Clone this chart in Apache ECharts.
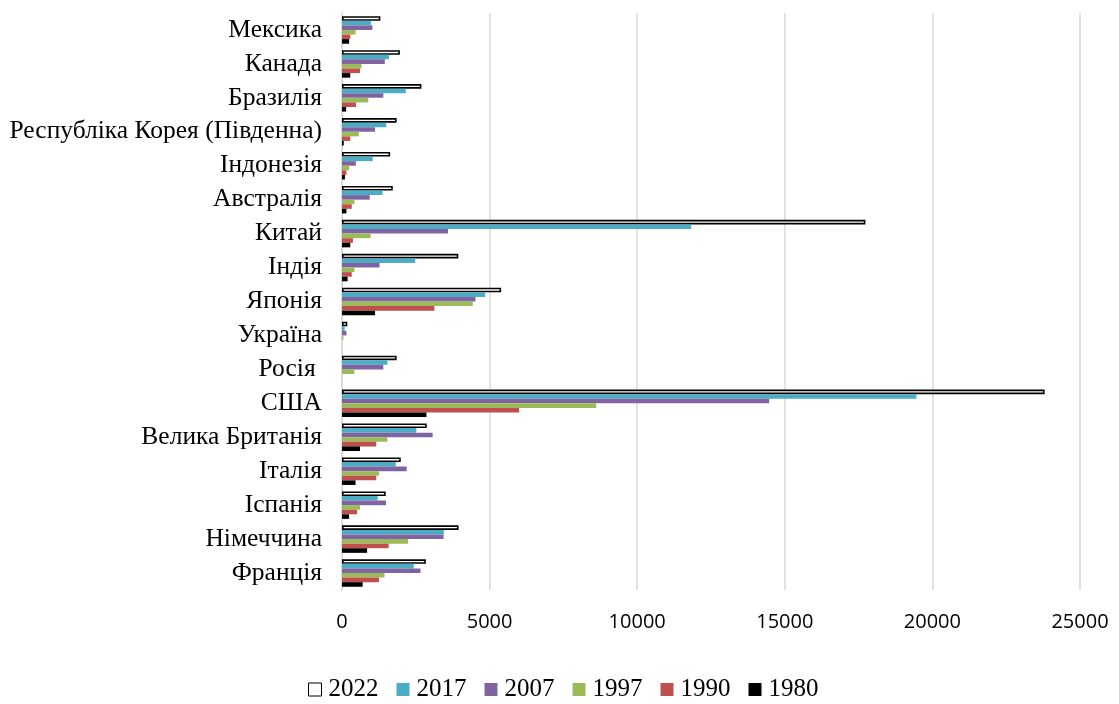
<!DOCTYPE html>
<html>
<head>
<meta charset="utf-8">
<script src="https://cdn.jsdelivr.net/npm/echarts@6/dist/echarts.min.js"></script>
<style>html,body{margin:0;padding:0;background:#fff;}#c{width:1119px;height:704px;}</style>
</head>
<body>
<div id="c"></div>
<script>
const categories = ['Франція','Німеччина','Іспанія','Італія','Велика Британія','США','Росія ','Україна','Японія','Індія','Китай','Австралія','Індонезія','Республіка Корея (Південна)','Бразилія','Канада','Мексика'];
const xTicks = [0, 5000, 10000, 15000, 20000, 25000];
const seriesNames = ['2022','2017','2007','1997','1990','1980'];
const v2022 = [2840, 3950, 1480, 1990, 2870, 23800, 1850, 180, 5390, 3940, 17730, 1720, 1630, 1850, 2690, 1960, 1300];
const v2017 = [2430, 3450, 1210, 1820, 2520, 19460, 1540, 90, 4850, 2480, 11830, 1370, 1040, 1500, 2160, 1590, 980];
const v2007 = [2660, 3440, 1490, 2190, 3070, 14470, 1400, 150, 4520, 1270, 3590, 940, 470, 1120, 1400, 1450, 1030];
const v1997 = [1440, 2240, 610, 1250, 1540, 8610, 420, 45, 4430, 420, 970, 420, 240, 570, 890, 660, 460];
const v1990 = [1250, 1580, 510, 1160, 1160, 6000, null, null, 3130, 330, 370, 330, 150, 280, 475, 610, 280];
const v1980 = [700, 850, 240, 460, 610, 2860, null, null, 1120, 190, 280, 150, 100, 60, 140, 280, 240];
const values = [v2022, v2017, v2007, v1997, v1990, v1980];
const colors = ['#ffffff', '#4bacc6', '#8064a2', '#9bbb59', '#c0504d', '#000000'];

const chart = echarts.init(document.getElementById('c'), null, {renderer: 'canvas'});
const series = seriesNames.map((n, i) => ({
  name: n,
  type: 'bar',
  data: values[i],
  barGap: '0%',
  barCategoryGap: '19%',
  itemStyle: i === 0 ? {color: '#ffffff', borderColor: '#000000', borderWidth: 1.6} : {color: colors[i]},
  emphasis: {disabled: true}
}));
chart.setOption({
  animation: false,
  backgroundColor: '#ffffff',
  grid: {left: 342, right: 39, top: 13, bottom: 114, containLabel: false},
  legend: {
    data: seriesNames.map((n, i) => ({name: n, itemStyle: i === 0 ? {color: '#fff', borderColor: '#000', borderWidth: 1} : {color: colors[i]}})),
    bottom: -3,
    left: 303,
    icon: 'rect',
    itemWidth: 13,
    itemHeight: 13,
    itemGap: 18,
    textStyle: {fontFamily: 'Liberation Serif', fontSize: 25, color: '#000', padding: [0, 0, 0, 2]}
  },
  xAxis: {
    type: 'value',
    min: 0,
    max: 25000,
    interval: 5000,
    axisLine: {show: false},
    axisTick: {show: false},
    splitLine: {show: true, lineStyle: {color: '#d9d9d9', width: 1.5}},
    axisLabel: {margin: 22, fontFamily: 'Open Sans', fontSize: 20, color: '#000',
      formatter: v => xTicks.indexOf(v) >= 0 ? String(v) : ''}
  },
  yAxis: {
    type: 'category',
    data: categories,
    axisLine: {show: true, lineStyle: {color: '#d9d9d9', width: 1.5}},
    axisTick: {show: false},
    axisLabel: {margin: 20, fontFamily: 'Liberation Serif', fontSize: 25.5, color: '#000'}
  },
  series: series
});
</script>
</body>
</html>
